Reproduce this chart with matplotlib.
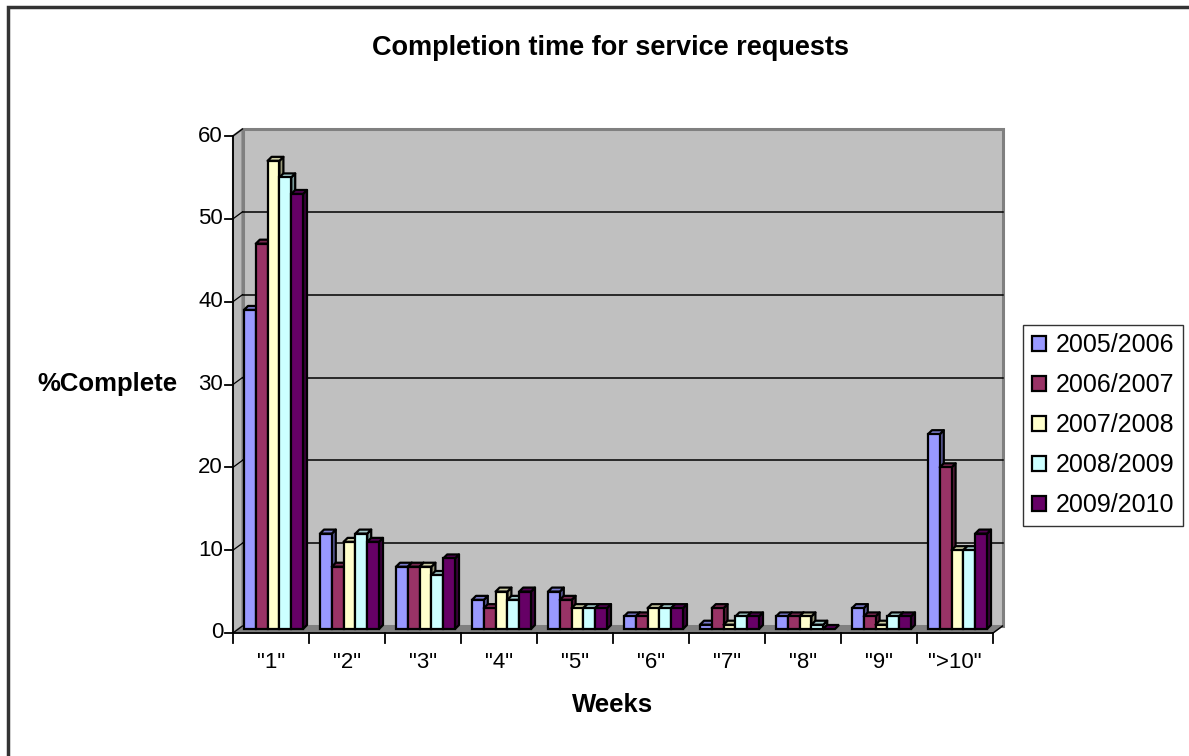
import matplotlib
matplotlib.use("Agg")
import matplotlib.pyplot as plt
from matplotlib.patches import Polygon, Rectangle
import numpy as np

plt.rcParams['font.family'] = ['Liberation Sans', 'DejaVu Sans']

categories = ['"1"', '"2"', '"3"', '"4"', '"5"', '"6"', '"7"', '"8"', '"9"', '">10"']
series_names = ['2005/2006', '2006/2007', '2007/2008', '2008/2009', '2009/2010']
pct_0506 = [39, 12, 8, 4, 5, 2, 1, 2, 3, 24]
pct_0607 = [47, 8, 8, 3, 4, 2, 3, 2, 2, 20]
pct_0708 = [57, 11, 8, 5, 3, 3, 1, 2, 1, 10]
pct_0809 = [55, 12, 7, 4, 3, 3, 2, 1, 2, 10]
pct_0910 = [53, 11, 9, 5, 3, 3, 2, 0, 2, 12]
series_values = [pct_0506, pct_0607, pct_0708, pct_0809, pct_0910]
colors = ['#9999FF', '#993366', '#FFFFCC', '#CCFFFF', '#660066']
y_ticks = [0, 10, 20, 30, 40, 50, 60]

W, H = 1189, 756
fig = plt.figure(figsize=(W / 100, H / 100), dpi=100)

# front plane of the 3-D box, in pixels
left_px, right_px, top_px, bot_px = 233, 993, 136, 633
ax = fig.add_axes([left_px / W, 1 - bot_px / H,
                   (right_px - left_px) / W, (bot_px - top_px) / H])
n = len(categories)
ymax = 60
ax.set_xlim(0, n)
ax.set_ylim(0, ymax)
ax.axis('off')

sx = n / (right_px - left_px)      # data units per pixel, x
sy = ymax / (bot_px - top_px)      # data units per pixel, y

# box depth
dx, dy = 9.5 * sx, 7 * sy
wall_c = '#c0c0c0'
edge_c = '#808080'

# left wall
ax.add_patch(Polygon([(0, 0), (0, ymax), (dx, ymax + dy), (dx, dy)],
                     closed=True, facecolor='#b8b8b8', edgecolor=edge_c,
                     lw=1.5, clip_on=False, zorder=1))
# back wall
ax.add_patch(Rectangle((dx, dy), n, ymax, facecolor=wall_c, edgecolor=edge_c,
                       lw=2.2, clip_on=False, zorder=1))
# floor
ax.add_patch(Polygon([(0, 0), (n, 0), (n + dx, dy), (dx, dy)], closed=True,
                     facecolor='#808080', edgecolor='#808080', lw=1,
                     clip_on=False, zorder=2))

# gridlines on the back wall plus the connectors across the left wall
for v in y_ticks[1:-1]:
    ax.plot([dx, n + dx], [v + dy, v + dy], color='black', lw=1.1,
            clip_on=False, zorder=2)
for v in y_ticks:
    ax.plot([0, dx], [v, v + dy], color='black', lw=0.9,
            clip_on=False, zorder=2)

# axes lines and ticks
ax.plot([0, 0], [0, ymax], color='black', lw=1.3, clip_on=False, zorder=3)
ax.plot([0, n], [0, 0], color='black', lw=1.3, clip_on=False, zorder=3)
ax.plot([n, n + dx], [0, dy], color='black', lw=1.0, clip_on=False, zorder=3)
for v in y_ticks:
    ax.plot([-8 * sx, 0], [v, v], color='black', lw=1.3, clip_on=False, zorder=3)
    ax.text(-10 * sx, v, str(v), ha='right', va='center', fontsize=16)
for i in range(n + 1):
    ax.plot([i, i], [0, -10 * sy], color='black', lw=1.3, clip_on=False, zorder=3)
for i, lab in enumerate(categories):
    ax.text(i + 0.5, -30 * sy, lab, ha='center', va='center', fontsize=16)


def shade(c, f):
    r, g, b = matplotlib.colors.to_rgb(c)
    return (r * f, g * f, b * f)


# 3-D clustered columns
bar_w = 11.8 * sx
start = 11 * sx
bdx, bdy = 4 * sx, 4 * sy
base = 4 * sy
z = 10
handles = []
for i in range(n):
    for s, vals in enumerate(series_values):
        v = vals[i]
        x0 = i + start + s * bar_w
        c = colors[s]
        if v > 0:
            # right side face
            ax.add_patch(Polygon([(x0 + bar_w, base), (x0 + bar_w + bdx, base + bdy),
                                  (x0 + bar_w + bdx, v + bdy), (x0 + bar_w, v)],
                                 closed=True, facecolor=shade(c, 0.6),
                                 edgecolor='black', lw=1.6, zorder=z,
                                 clip_on=False, joinstyle='round'))
            # top face
            ax.add_patch(Polygon([(x0, v), (x0 + bar_w, v),
                                  (x0 + bar_w + bdx, v + bdy), (x0 + bdx, v + bdy)],
                                 closed=True, facecolor=shade(c, 0.8),
                                 edgecolor='black', lw=1.6, zorder=z,
                                 clip_on=False, joinstyle='round'))
            # front face
            front = ax.bar(x0, v - base, bottom=base, width=bar_w, align='edge',
                           color=c, edgecolor='black', lw=1.6, zorder=z + 0.5,
                           clip_on=False)
        else:
            # flat slab for a zero value
            ax.add_patch(Polygon([(x0, base), (x0 + bar_w, base),
                                  (x0 + bar_w + bdx, base + bdy), (x0 + bdx, base + bdy)],
                                 closed=True, facecolor=shade(c, 0.8),
                                 edgecolor='black', lw=1.6, zorder=z,
                                 clip_on=False))
            front = None
        if i == 0:
            handles.append(front)
        z += 1

# titles
fig.text(611 / W, 1 - 48 / H, 'Completion time for service requests',
         ha='center', va='center', fontsize=19.5, fontweight='bold')
fig.text(107 / W, 1 - 384 / H, '%Complete', ha='center', va='center',
         fontsize=18.5, fontweight='bold')
fig.text(613 / W, 1 - 705 / H, 'Weeks', ha='center', va='center',
         fontsize=18.5, fontweight='bold')

# legend
leg = fig.legend(handles, series_names, loc='center left',
                 bbox_to_anchor=(1023 / W, 1 - 425.5 / H),
                 frameon=True, fancybox=False, fontsize=18,
                 handlelength=0.55, handleheight=0.55, handletextpad=0.4,
                 labelspacing=0.64, borderpad=0.35, borderaxespad=0)
leg.get_frame().set_edgecolor('black')
leg.get_frame().set_linewidth(1.0)

# outer chart border
fig.patches.append(Rectangle((8 / W, -0.1), 1.2, 1 - 7 / H + 0.1,
                             transform=fig.transFigure, fill=False,
                             edgecolor='#333333', lw=2.5))

fig.savefig('out.png', dpi=100)
